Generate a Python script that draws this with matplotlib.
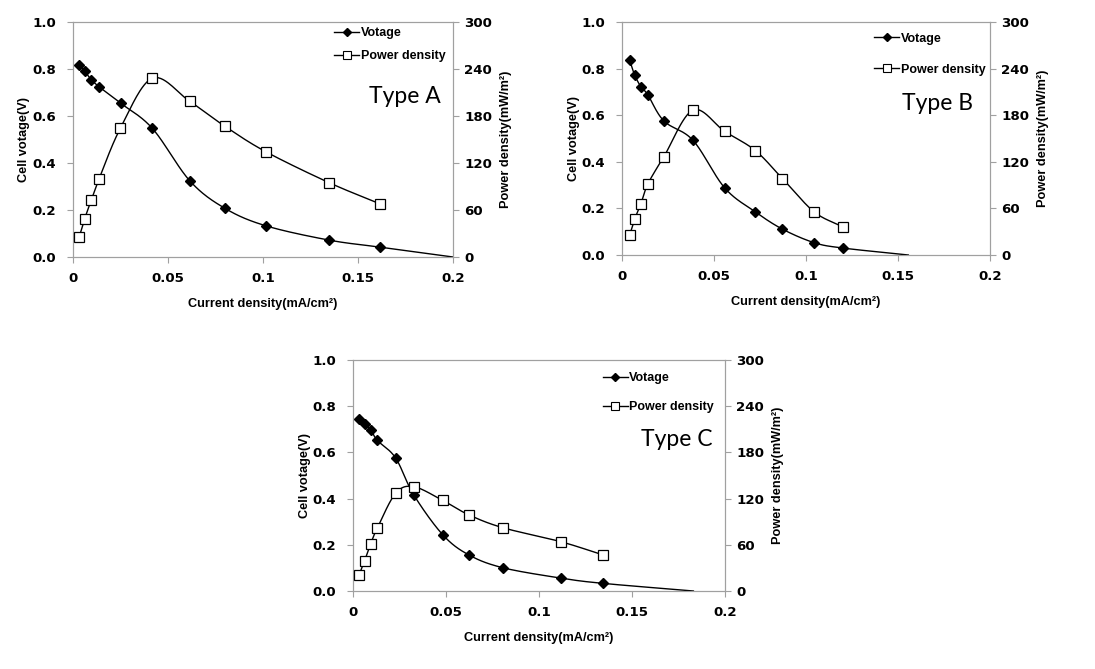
import numpy as np
import matplotlib
matplotlib.use("Agg")
import matplotlib.pyplot as plt
from matplotlib.lines import Line2D

plt.rcParams['font.family'] = ['Liberation Sans', 'DejaVu Sans']

# ---------------- data ----------------
# Type A
a_current = [0.0033, 0.0061, 0.0096, 0.0138, 0.025, 0.0418, 0.0615, 0.080, 0.1014, 0.1347, 0.1615, 0.2]
a_voltage = [0.819, 0.791, 0.755, 0.724, 0.655, 0.547, 0.324, 0.207, 0.133, 0.072, 0.042, 0.0]
a_power = [25.9, 48.4, 72.6, 100.1, 164.6, 228.3, 198.6, 166.8, 134.5, 95.0, 67.9]

# Type B
b_current = [0.0042, 0.0069, 0.0103, 0.014, 0.0228, 0.0386, 0.0558, 0.0725, 0.0872, 0.1044, 0.1199, 0.1556]
b_voltage = [0.836, 0.772, 0.722, 0.688, 0.575, 0.492, 0.288, 0.185, 0.111, 0.053, 0.030, 0.0]
b_power = [26.1, 46.2, 66.3, 91.2, 126.7, 186.6, 159.2, 134.4, 98.4, 55.6, 36.4]

# Type C
c_current = [0.0032, 0.0062, 0.0095, 0.0131, 0.0229, 0.0326, 0.0482, 0.0621, 0.0804, 0.1116, 0.1345, 0.183]
c_voltage = [0.743, 0.722, 0.698, 0.652, 0.576, 0.417, 0.244, 0.157, 0.101, 0.056, 0.033, 0.0]
c_power = [20.3, 39.0, 61.5, 81.8, 126.8, 135.5, 117.7, 99.1, 82.3, 64.1, 46.8]

panel_names = ["Type A", "Type B", "Type C"]
x_ticks = [0, 0.05, 0.1, 0.15, 0.2]
x_tick_labels = ["0", "0.05", "0.1", "0.15", "0.2"]
v_ticks = [0.0, 0.2, 0.4, 0.6, 0.8, 1.0]
p_ticks = [0, 60, 120, 180, 240, 300]


def smooth(x, y, n=30):
    """Catmull-Rom style smoothing of the drawn line (like Excel smoothed lines)."""
    x = np.asarray(x, float)
    y = np.asarray(y, float)
    if len(x) < 3:
        return x, y
    px = np.concatenate([[2 * x[0] - x[1]], x, [2 * x[-1] - x[-2]]])
    py = np.concatenate([[2 * y[0] - y[1]], y, [2 * y[-1] - y[-2]]])
    xs, ys = [], []
    t = np.linspace(0, 1, n, endpoint=False)
    for i in range(1, len(px) - 2):
        p0x, p1x, p2x, p3x = px[i - 1:i + 3]
        p0y, p1y, p2y, p3y = py[i - 1:i + 3]
        c1x = p1x + (p2x - p0x) / 6.0
        c1y = p1y + (p2y - p0y) / 6.0
        c2x = p2x - (p3x - p1x) / 6.0
        c2y = p2y - (p3y - p1y) / 6.0
        bx = (1 - t) ** 3 * p1x + 3 * (1 - t) ** 2 * t * c1x + 3 * (1 - t) * t ** 2 * c2x + t ** 3 * p2x
        by = (1 - t) ** 3 * p1y + 3 * (1 - t) ** 2 * t * c1y + 3 * (1 - t) * t ** 2 * c2y + t ** 3 * p2y
        xs.append(bx)
        ys.append(by)
    xs.append([x[-1]])
    ys.append([y[-1]])
    return np.concatenate(xs), np.concatenate(ys)


fig = plt.figure(figsize=(10.95, 6.69), dpi=100)
fig.patch.set_facecolor("white")

rects = [
    (73 / 1095, 1 - 257 / 669, 380 / 1095, 235 / 669),
    (622 / 1095, 1 - 255 / 669, 368 / 1095, 233 / 669),
    (353 / 1095, 1 - 591 / 669, 372 / 1095, 231 / 669),
]
legend_anchor = [(0.675, 1.0), (0.672, 0.975), (0.658, 0.97)]
legend_spacing = [0.9, 1.5, 1.38]
type_pos = [(0.874, 0.685), (0.856, 0.652), (0.871, 0.658)]

datasets = [
    (a_current, a_voltage, a_power),
    (b_current, b_voltage, b_power),
    (c_current, c_voltage, c_power),
]

spine_color = "#a0a0a0"
tick_font = dict(fontsize=9.6, fontweight="bold", family=["DejaVu Sans"])
label_font = dict(fontsize=9.2, fontweight="bold")

for k, (cur, volt, powr) in enumerate(datasets):
    ax = fig.add_axes(rects[k])
    ax2 = ax.twinx()

    # Voltage (left axis)
    sx, sy = smooth(cur, volt)
    ax.plot(sx, sy, color="black", lw=1.0, zorder=3)
    ax.plot(cur[:-1], volt[:-1], linestyle="none", marker="D", markersize=4.6,
            color="black", zorder=4)

    # Power density (right axis)
    n = len(powr)
    px, py = smooth(cur[:n], powr)
    ax2.plot(px, py, color="black", lw=1.0, zorder=3)
    ax2.plot(cur[:n], powr, linestyle="none", marker="s", markersize=7.5,
             markerfacecolor="white", markeredgecolor="black", markeredgewidth=0.9, zorder=4)

    ax.set_xlim(0, 0.2)
    ax.set_ylim(0, 1.0)
    ax2.set_ylim(0, 300)
    ax.set_xticks(x_ticks)
    ax.set_xticklabels(x_tick_labels, **tick_font)
    ax.set_yticks(v_ticks)
    ax.set_yticklabels([f"{v:.1f}" for v in v_ticks], **tick_font)
    ax2.set_yticks(p_ticks)
    ax2.set_yticklabels([str(p) for p in p_ticks], **tick_font)

    for a in (ax, ax2):
        for s in a.spines.values():
            s.set_color(spine_color)
            s.set_linewidth(0.8)
        a.tick_params(direction="out", length=4, width=0.8, color=spine_color, pad=8)
    ax.tick_params(axis="x", pad=7)
    ax2.tick_params(axis="y", pad=4)

    ax.set_xlabel("Current density(mA/cm\u00b2)", labelpad=9, **label_font)
    ax.set_ylabel("Cell votage(V)", labelpad=1.5, **label_font)
    ax2.set_ylabel("Power density(mW/m\u00b2)", labelpad=6, **label_font)

    handles = [
        Line2D([], [], color="black", lw=1.0, marker="D", markersize=4),
        Line2D([], [], color="black", lw=1.0, marker="s", markersize=6,
               markerfacecolor="white", markeredgecolor="black", markeredgewidth=0.8),
    ]
    ax2.legend(handles, ["Votage", "Power density"], loc="upper left",
               bbox_to_anchor=legend_anchor[k], frameon=False,
               prop=dict(size=9, weight="bold"), handlelength=2.0,
               handletextpad=0.1, labelspacing=legend_spacing[k], borderaxespad=0)

    ax2.text(type_pos[k][0], type_pos[k][1], panel_names[k], transform=ax.transAxes,
             ha="center", va="center", fontsize=16.5, fontweight="normal", color="black",
             family=["Lato", "DejaVu Sans"])

fig.savefig("out.png", dpi=100)
